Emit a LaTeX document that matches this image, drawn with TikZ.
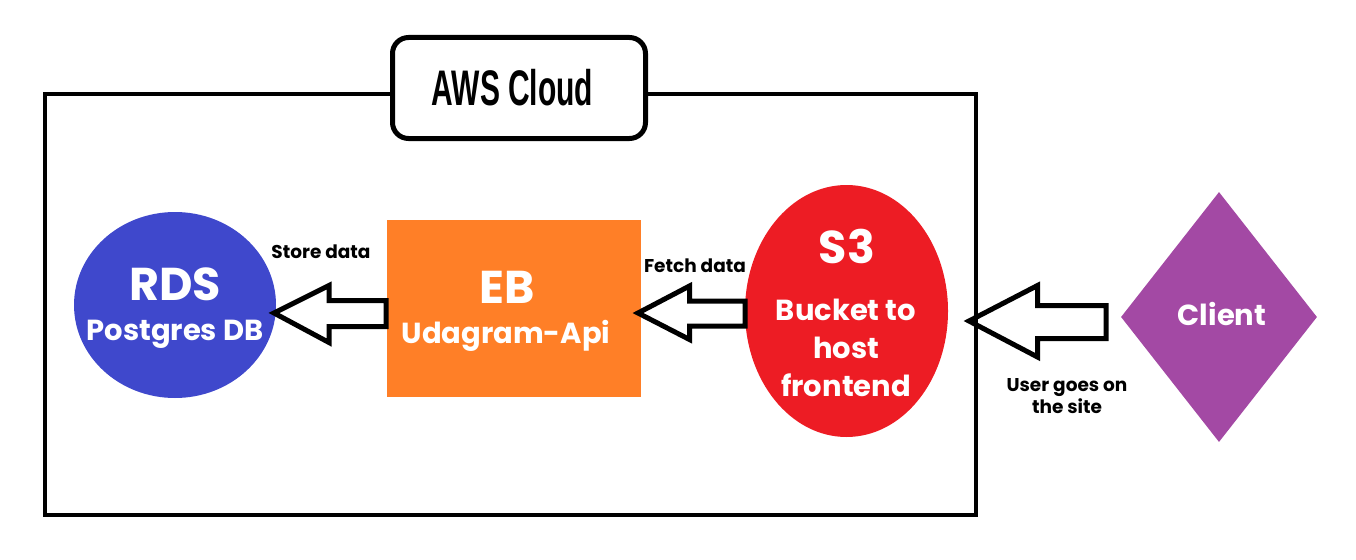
\documentclass[tikz,border=0pt]{standalone}
\usepackage{fontspec}
\setmainfont{Poppins}
\newfontfamily\awsfont{Liberation Sans}
\usetikzlibrary{shapes.geometric}
\definecolor{rdsblue}{HTML}{3F48CC}
\definecolor{eborange}{HTML}{FF7F27}
\definecolor{sthreered}{HTML}{ED1C24}
\definecolor{clientpurple}{HTML}{A349A4}
\tikzset{
  big/.style={text=white, font=\fontsize{46}{50}\selectfont\bfseries, anchor=base, inner sep=0pt},
  mid/.style={text=white, font=\fontsize{29}{32}\selectfont\bfseries, anchor=base, inner sep=0pt},
  lbl/.style={text=black, font=\fontsize{18.5}{22}\selectfont\bfseries, anchor=base, inner sep=0pt},
  blockarrow/.style={draw=black, fill=white, line width=5pt, line join=miter, miter limit=3},
}
\begin{document}
\begin{tikzpicture}[x=1pt,y=-1pt]
\useasboundingbox (0,0) rectangle (1356,559);
% shapes
\node[ellipse, fill=rdsblue, minimum width=202pt, minimum height=186pt, inner sep=0pt] (rds) at (175,305) {};
\node[rectangle, fill=eborange, minimum width=254pt, minimum height=177pt, inner sep=0pt] (eb) at (514,308.5) {};
\node[ellipse, fill=sthreered, minimum width=203pt, minimum height=252pt, inner sep=0pt] (s3) at (846.5,311) {};
\node[diamond, fill=clientpurple, minimum width=196pt, minimum height=250pt, inner sep=0pt, aspect=0.784] (client) at (1219,317) {};
% texts
\node[big] (rdst) at (175,300) {RDS};
\node[mid] (rdsp) at (175,340) {Postgres DB};
\node[big] (ebt) at (507,303) {EB};
\node[mid] (ebu) at (506,343) {Udagram-Api};
\node[big] (s3t) at (847,263) {S3};
\node[mid] (s3a) at (846,320) {Bucket to};
\node[mid] (s3b) at (846,358) {host};
\node[mid] (s3c) at (846,396) {frontend};
\node[mid] (clientt) at (1222,325) {Client};
\node[lbl] (store) at (321,258) {Store data};
\node[lbl] (fetch) at (695,272) {Fetch data};
\node[lbl] (user1) at (1067,391) {User goes on};
\node[lbl] (user2) at (1067,413) {the site};
% block arrows
\draw[blockarrow] (274,313) -- (329,285.5) -- (329,300.5) -- (386,300.5) -- (386,326.5) -- (329,326.5) -- (329,342.5) -- cycle;
\draw[blockarrow] (638,313) -- (689.5,286) -- (689.5,301) -- (745,301) -- (745,326) -- (689.5,326) -- (689.5,339.5) -- cycle;
\draw[blockarrow] (969,321) -- (1037.5,285.5) -- (1037.5,305.5) -- (1106,305.5) -- (1106,338.5) -- (1037.5,338.5) -- (1037.5,357) -- cycle;
% AWS cloud box
\draw[line width=4pt] (45,94) rectangle (976,515);
\draw[line width=5pt, fill=white, rounded corners=16pt] (392.5,37.5) rectangle (645.5,138.5);
\node[anchor=base, inner sep=0pt, font=\fontsize{50}{54}\selectfont\awsfont\bfseries] (aws) at (512.5,106) {\scalebox{0.6}[1]{AWS Cloud}};
\end{tikzpicture}
\end{document}
